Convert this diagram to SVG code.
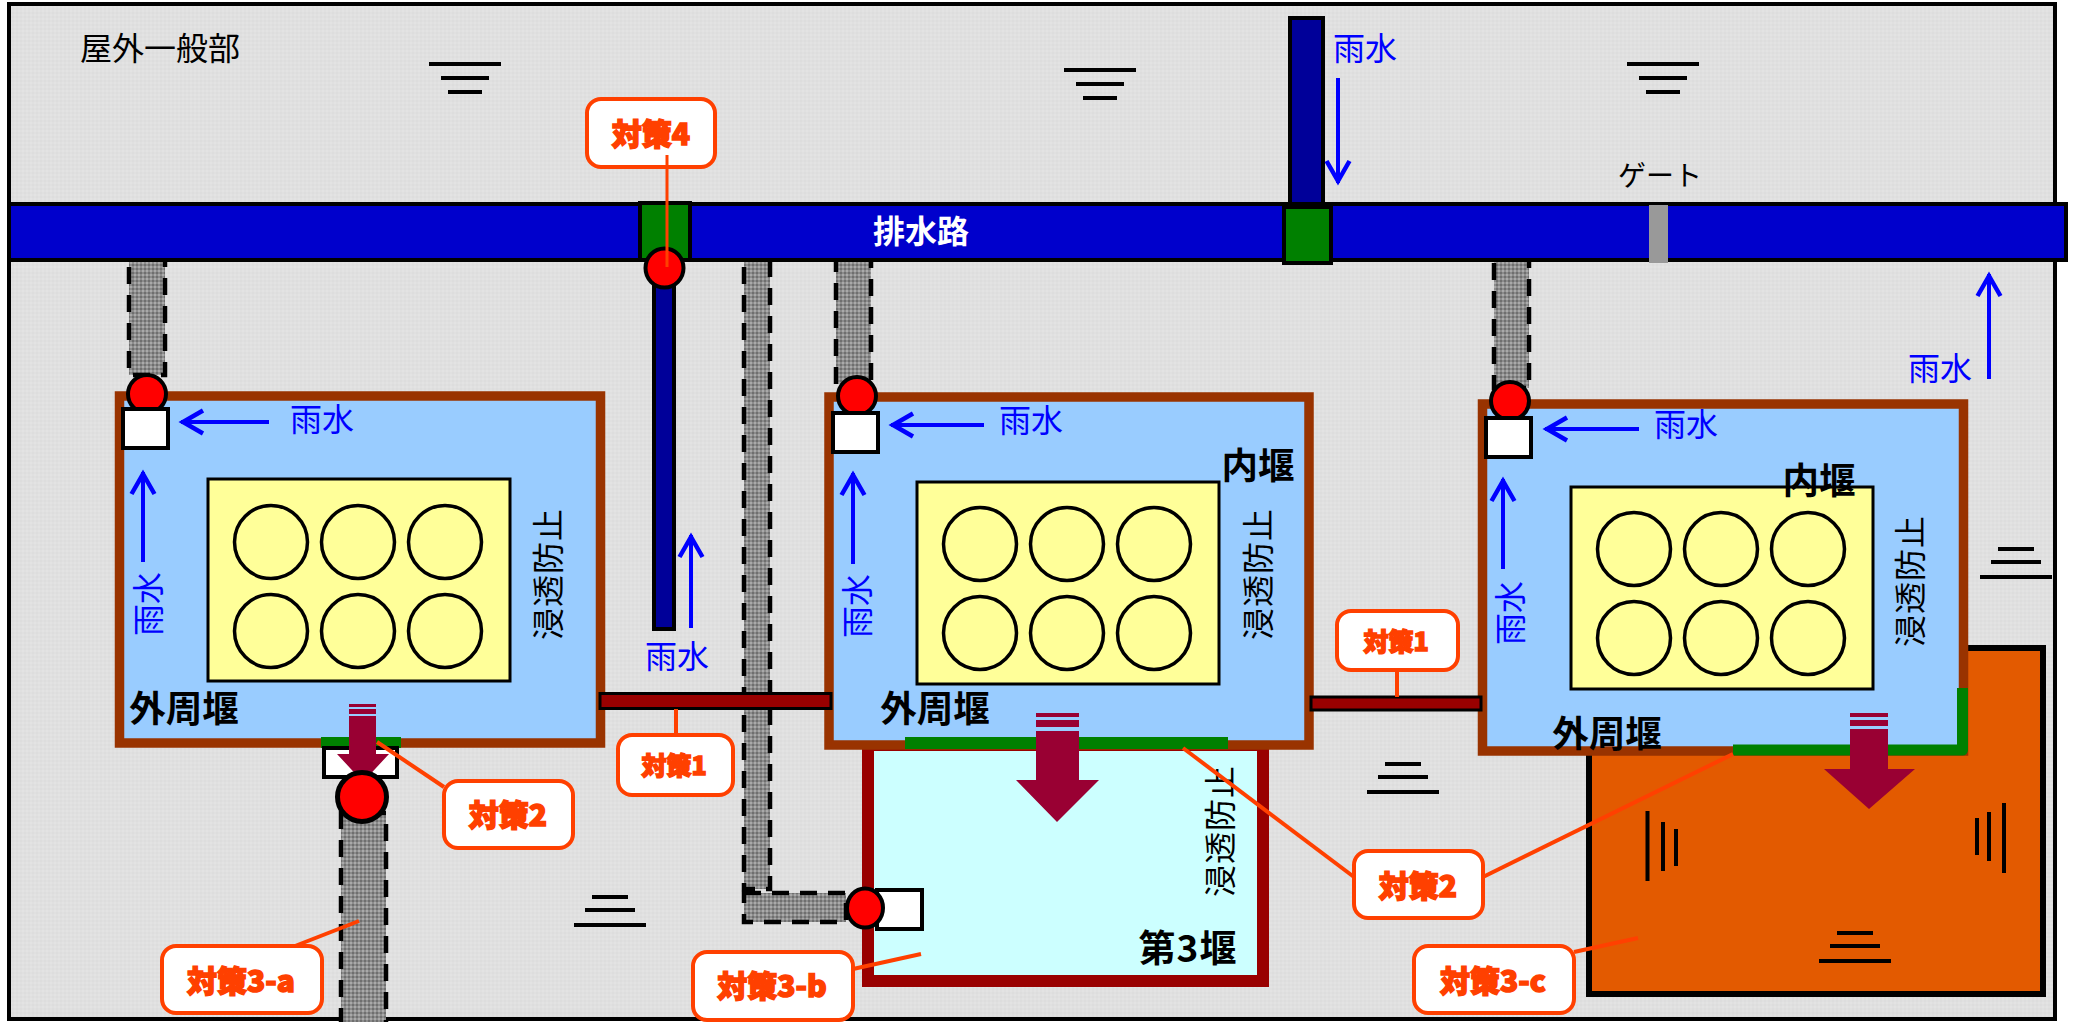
<svg xmlns="http://www.w3.org/2000/svg" width="2076" height="1022" viewBox="0 0 2076 1022">
<style>
text{font-family:"Noto Sans CJK JP","Noto Sans",sans-serif;text-anchor:middle}
.lbl{font-size:32px;fill:#000}
.rot{letter-spacing:1px}
.rain{font-size:32px;fill:#0000FF}
.wall{font-size:36.5px;fill:#000;font-weight:700}
.call{font-size:30px;font-weight:900;fill:#FF4000;stroke:#FF4000;stroke-width:1.5}
.small{font-size:25px}
.box{fill:#fff;stroke:#FF4000;stroke-width:4}
.leader{fill:none;stroke:#FF4000;stroke-width:4}
.weir{fill:#99CCFF;stroke:#993300;stroke-width:9.5}
.tank{fill:#FFFF99;stroke:#000;stroke-width:3}
.can{fill:#FFFF99;stroke:#000;stroke-width:3.5}
.pipe{fill:url(#dither);stroke:#000;stroke-width:4.5;stroke-dasharray:17 11}
.red{fill:#FF0000;stroke:#000;stroke-width:4}
.sq{fill:#fff;stroke:#000;stroke-width:4}
.grn{fill:#008000;stroke:#000;stroke-width:4}
.gs{stroke:#000;stroke-width:4;fill:none}
.rainarrow{stroke:#0000FF;stroke-width:4;fill:none;marker-end:url(#stick)}
.flow{fill:#990033}
.bar{fill:#990000;stroke:#000;stroke-width:3}
</style>
<defs>
<pattern id="dither" width="4" height="4" patternUnits="userSpaceOnUse">
<rect width="4" height="4" fill="#8c8c8c"/><rect width="2" height="2" fill="#6f6f6f"/><rect x="2" y="2" width="2" height="2" fill="#aaaaaa"/>
</pattern>
<pattern id="bgd" width="4" height="4" patternUnits="userSpaceOnUse">
<rect width="4" height="4" fill="#E0E0E0"/><rect width="2" height="2" fill="#DDDDDD"/><rect x="2" y="2" width="2" height="2" fill="#E3E3E3"/>
</pattern>
<marker id="stick" markerUnits="userSpaceOnUse" markerWidth="32" markerHeight="32" refX="27" refY="16" orient="auto">
<path d="M5 4.5 L25 16 L5 27.5" fill="none" stroke="#0000FF" stroke-width="4.5"/>
</marker>
<g id="cans">
<ellipse class="can" cx="0" cy="0" rx="36.5" ry="36.5"/>
<ellipse class="can" cx="87" cy="0" rx="36.5" ry="36.5"/>
<ellipse class="can" cx="174" cy="0" rx="36.5" ry="36.5"/>
<ellipse class="can" cx="0" cy="89" rx="36.5" ry="36.5"/>
<ellipse class="can" cx="87" cy="89" rx="36.5" ry="36.5"/>
<ellipse class="can" cx="174" cy="89" rx="36.5" ry="36.5"/>
</g>
<path id="gdown" class="gs" d="M-36 0H36M-24 14H24M-17 28H17"/>
<path id="gup" class="gs" d="M-18 0H18M-25 13H25M-36 28H36"/>
</defs>

<g id="site">
<rect x="9" y="4" width="2046" height="1015" fill="url(#bgd)" stroke="#000" stroke-width="4"/>
<text class="lbl" x="160" y="60">屋外一般部</text>
<use href="#gdown" x="465" y="64"/>
<use href="#gdown" x="1100" y="70"/>
<use href="#gdown" x="1663" y="64"/>
<use href="#gup" x="1403" y="764"/>
<use href="#gup" x="610" y="897"/>
<use href="#gup" x="2016" y="549"/>
</g>

<g id="pipes">
<rect class="pipe" x="129" y="258" width="36" height="117"/>
<rect class="pipe" x="836" y="258" width="35" height="126"/>
<rect class="pipe" x="1494" y="258" width="35" height="130"/>
<rect class="pipe" x="744" y="258" width="26" height="631"/>
<rect class="pipe" x="744" y="893" width="102" height="29"/>
<rect class="pipe" x="341" y="813" width="45" height="215"/>
</g>

<g id="drain-branch-upper">
<rect x="1290" y="18" width="33" height="195" fill="#000099" stroke="#000" stroke-width="4"/>
</g>
<g id="drain-branch-lower">
<rect x="654" y="258" width="20" height="371" fill="#000099" stroke="#000" stroke-width="4"/>
</g>
<g id="drain">
<rect x="9" y="204" width="2057" height="56" fill="#0000CC" stroke="#000" stroke-width="4"/>
<text x="921" y="243" font-size="32" font-weight="700" fill="#fff">排水路</text>
</g>
<g id="gate">
<rect x="1649" y="205" width="19" height="58" fill="#999999"/>
<text class="lbl" x="1660" y="186" style="font-size:28px">ゲート</text>
</g>
<g id="valve-a"><rect class="grn" x="640" y="203" width="50" height="57"/><ellipse class="red" cx="664.5" cy="268" rx="19" ry="19.5"/></g>
<g id="valve-b"><rect class="grn" x="1284" y="207" width="47" height="56"/></g>

<g id="pit-c">
<rect x="1589" y="648" width="454" height="346" fill="#E35A00" stroke="#000" stroke-width="6"/>
<path class="gs" d="M1647.5 811V881M1663 822V871M1676 829V866M2004 803V873M1989 812V861M1977 818V855"/>
<use href="#gup" x="1855" y="933"/>
</g>
<g id="weir-third">
<rect x="868" y="745" width="395" height="236" fill="#CCFFFF" stroke="#990000" stroke-width="12"/>
<text class="lbl rot" transform="rotate(-90 1221 831)" x="1221" y="842">浸透防止</text>
<text class="wall" x="1188" y="962" style="font-size:37px;letter-spacing:1px">第3堰</text>
<rect class="sq" x="877" y="890" width="45" height="39"/>
<ellipse class="red" cx="865" cy="908" rx="18" ry="19.5"/>
</g>

<g id="weir-1">
<rect class="weir" x="119.5" y="396" width="481" height="347"/>
<rect class="tank" x="208" y="479" width="302" height="202"/>
<use href="#cans" x="271" y="542"/>
<text class="lbl rot" transform="rotate(-90 549 574)" x="549" y="585">浸透防止</text>
<text class="wall" x="184" y="722">外周堰</text>
<ellipse class="red" cx="147" cy="394" rx="19" ry="19"/>
<rect class="sq" x="123" y="409" width="45" height="39"/>
<path class="rainarrow" d="M269 422H181"/>
<text class="rain" x="322" y="431">雨水</text>
<path class="rainarrow" d="M143 562V472"/>
<text class="rain" transform="rotate(-90 149 604)" x="149" y="615">雨水</text>
<rect x="321" y="737" width="80" height="11" fill="#008000"/>
<rect class="sq" x="324" y="748" width="73" height="29"/>
<path class="flow" d="M349 704H376V707H349ZM349 709H376V714H349ZM349 716H376V754H389L363 782L337 754H349Z"/>
<circle class="red" cx="362" cy="797" r="24.5" style="stroke-width:5"/>
</g>

<g id="weir-2">
<rect class="weir" x="829" y="397" width="480" height="348"/>
<rect class="tank" x="917" y="482" width="302" height="202"/>
<use href="#cans" x="980" y="544"/>
<text class="lbl rot" transform="rotate(-90 1259 574)" x="1259" y="585">浸透防止</text>
<text class="wall" x="1258" y="479">内堰</text>
<text class="wall" x="935" y="722">外周堰</text>
<ellipse class="red" cx="857" cy="396" rx="19" ry="19"/>
<rect class="sq" x="833" y="413" width="45" height="39"/>
<path class="rainarrow" d="M984 425H891"/>
<text class="rain" x="1031" y="432">雨水</text>
<path class="rainarrow" d="M853 564V473"/>
<text class="rain" transform="rotate(-90 858 606)" x="858" y="617">雨水</text>
<rect x="905" y="737" width="323" height="12" fill="#008000"/>
<path class="flow" d="M1036 713H1079V717H1036ZM1036 720H1079V727H1036ZM1036 731H1079V780H1099L1057 822L1016 780H1036Z"/>
</g>

<g id="weir-3">
<rect class="weir" x="1482.5" y="404" width="481" height="347"/>
<rect class="tank" x="1571" y="487" width="302" height="202"/>
<use href="#cans" x="1634" y="549"/>
<text class="lbl rot" transform="rotate(-90 1911 581)" x="1911" y="592">浸透防止</text>
<text class="wall" x="1819" y="494">内堰</text>
<text class="wall" x="1607" y="747">外周堰</text>
<ellipse class="red" cx="1510" cy="401" rx="19" ry="19"/>
<rect class="sq" x="1486" y="418" width="45" height="39"/>
<path class="rainarrow" d="M1639 429H1545"/>
<text class="rain" x="1686" y="436">雨水</text>
<path class="rainarrow" d="M1503 569V479"/>
<text class="rain" transform="rotate(-90 1511 613)" x="1511" y="624">雨水</text>
<path d="M1733 750H1962.5V688" fill="none" stroke="#008000" stroke-width="11" stroke-linejoin="round"/>
<path class="flow" d="M1850 713H1888V717H1850ZM1850 720H1888V726H1850ZM1850 729H1888V769H1915L1869 809L1824 769H1850Z"/>
</g>

<g id="free-rain">
<path class="rainarrow" d="M1338 78V183"/>
<text class="rain" x="1365" y="60">雨水</text>
<path class="rainarrow" d="M691 628V535"/>
<text class="rain" x="677" y="668">雨水</text>
<path class="rainarrow" d="M1989 379V274"/>
<text class="rain" x="1940" y="380">雨水</text>
</g>

<g id="bars">
<rect class="bar" x="600" y="693.5" width="231" height="15"/>
<rect class="bar" x="1311" y="697" width="170" height="13"/>
</g>

<g id="measure-1-left"><rect class="box" x="618" y="735" width="115" height="60" rx="14"/><text class="call small" x="674" y="775">対策1</text></g>
<g id="measure-1-right"><rect class="box" x="1337" y="611" width="121" height="59" rx="14"/><text class="call small" x="1396" y="651">対策1</text></g>
<g id="measure-2-left"><rect class="box" x="444" y="781" width="129" height="67" rx="14"/><text class="call" x="508" y="826">対策2</text></g>
<g id="measure-2-right"><rect class="box" x="1354" y="851" width="129" height="67" rx="14"/><text class="call" x="1418" y="897">対策2</text></g>
<g id="measure-3a"><rect class="box" x="162" y="946" width="160" height="67" rx="14"/><text class="call" x="241" y="992">対策3-a</text></g>
<g id="measure-3b"><rect class="box" x="693" y="952" width="160" height="68" rx="14"/><text class="call" x="772" y="997">対策3-b</text></g>
<g id="measure-3c"><rect class="box" x="1414" y="946" width="160" height="67" rx="14"/><text class="call" x="1493" y="992">対策3-c</text></g>
<g id="measure-4"><rect class="box" x="587" y="99" width="128" height="68" rx="14"/><text class="call" x="651" y="145">対策4</text></g>

<g id="connectors">
<path class="leader" d="M676 709V735"/>
<path class="leader" d="M1397 670V697"/>
<path class="leader" d="M377 742L444 787"/>
<path class="leader" d="M359 921L295 946"/>
<path class="leader" d="M853 969L921 954"/>
<path class="leader" d="M1733 754L1483 877"/>
<path class="leader" d="M1354 877L1183 748"/>
<path class="leader" d="M1574 952L1638 938"/>
<path class="leader" d="M667 155V267" style="stroke-width:3"/>
</g>
</svg>
